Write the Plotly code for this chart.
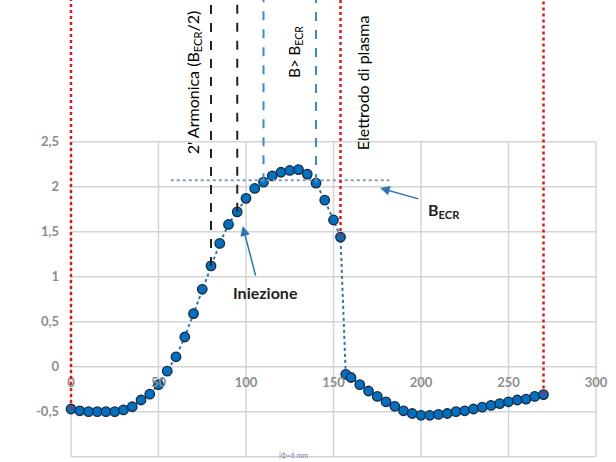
import plotly.graph_objects as go

# ---- data ----
pos_mm = [0, 5, 10, 15, 20, 25, 30, 35, 40, 45, 50, 55, 60, 65, 70, 75, 80, 85, 90, 95,
          100, 105, 110, 115, 120, 125, 130, 135, 140, 145, 150, 154, 157, 160, 165, 170,
          175, 180, 185, 190, 195, 200, 205, 210, 215, 220, 225, 230, 235, 240, 245, 250,
          255, 260, 265, 270]
campo_kG = [-0.47, -0.49, -0.50, -0.50, -0.50, -0.50, -0.48, -0.445, -0.37, -0.305, -0.20, -0.05,
            0.11, 0.33, 0.59, 0.86, 1.12, 1.37, 1.58, 1.72, 1.87, 1.98, 2.05, 2.12, 2.16, 2.18,
            2.19, 2.14, 2.04, 1.85, 1.63, 1.44, -0.085, -0.12, -0.20, -0.27, -0.33, -0.39,
            -0.44, -0.49, -0.52, -0.54, -0.54, -0.53, -0.52, -0.50, -0.49, -0.47, -0.45,
            -0.43, -0.41, -0.39, -0.37, -0.36, -0.33, -0.31]

x_ticks = [0, 50, 100, 150, 200, 250, 300]
y_ticks = [-1, -0.5, 0, 0.5, 1, 1.5, 2, 2.5]
y_ticktext = ["-1", "-0,5", "0", "0,5", "1", "1,5", "2", "2,5"]

red_lines = [0, 154, 270]        # elettrodo / estremi
black_lines = [80, 95]           # 2a armonica
blue_lines = [110, 140]          # B > BECR
B_ECR = 2.07
becr_span = [57, 182]

X_RANGE = [-4, 304]
Y_RANGE = [-1.059, 4.074]
lookup = dict(zip(pos_mm, campo_kG))

FONT = "Lato"
GRAY = "#8c8c8c"
GRID = "#d4d4d4"

fig = go.Figure()

fig.add_trace(go.Scatter(
    x=pos_mm, y=campo_kG, mode="lines+markers",
    line=dict(color="#2e75b6", width=2, dash="dot"),
    marker=dict(size=9.5, color="#0070c0", line=dict(color="#1a2840", width=1.3)),
    cliponaxis=False, showlegend=False,
))

shapes = []
# gridlines limited to the 0-300 / -1..2.5 box
for xv in x_ticks:
    shapes.append(dict(type="line", xref="x", yref="y", x0=xv, x1=xv,
                       y0=y_ticks[0], y1=y_ticks[-1],
                       line=dict(color=GRID, width=1.5), layer="below"))
for yv in y_ticks:
    shapes.append(dict(type="line", xref="x", yref="y", x0=x_ticks[0], x1=x_ticks[-1],
                       y0=yv, y1=yv, line=dict(color=GRID, width=1.5), layer="below"))
# BECR horizontal line
shapes.append(dict(type="line", xref="x", yref="y", x0=becr_span[0], x1=becr_span[1],
                   y0=B_ECR, y1=B_ECR, line=dict(color="#8898b8", width=2, dash="dot")))
for xv in black_lines:
    shapes.append(dict(type="line", xref="x", yref="y", x0=xv, x1=xv, y0=lookup[xv], y1=Y_RANGE[1],
                       line=dict(color="#222222", width=2, dash="dash")))
for xv in blue_lines:
    shapes.append(dict(type="line", xref="x", yref="y", x0=xv, x1=xv, y0=lookup[xv], y1=Y_RANGE[1],
                       line=dict(color="#3a8ad6", width=2, dash="dash")))
for xv in red_lines:
    shapes.append(dict(type="line", xref="x", yref="y", x0=xv, x1=xv, y0=lookup[xv], y1=Y_RANGE[1],
                       line=dict(color="#e01818", width=2.5, dash="dot")))

annotations = [
    dict(x=69.7, y=3.16, xref="x", yref="y", text="2' Armonica (B<sub>ECR</sub>/2)",
         textangle=-90, showarrow=False, font=dict(family=FONT, size=16, color="#000000")),
    dict(x=128, y=3.50, xref="x", yref="y", text="B> B<sub>ECR</sub>",
         textangle=-90, showarrow=False, font=dict(family=FONT, size=15, color="#000000")),
    dict(x=166.3, y=3.15, xref="x", yref="y", text="Elettrodo di plasma",
         textangle=-90, showarrow=False, font=dict(family=FONT, size=16, color="#000000")),
    # arrows
    dict(x=176.6, y=1.985, ax=199.4, ay=1.86, xref="x", yref="y", axref="x", ayref="y",
         text="", showarrow=True, arrowhead=2, arrowsize=1.3, arrowwidth=1.5, arrowcolor="#2e75b6"),
    dict(x=213, y=1.74, xref="x", yref="y", text="<b>B<sub>ECR</sub></b>", showarrow=False,
         font=dict(family=FONT, size=16, color="#222222")),
    dict(x=98.1, y=1.563, ax=105.7, ay=0.997, xref="x", yref="y", axref="x", ayref="y",
         text="", showarrow=True, arrowhead=2, arrowsize=1.3, arrowwidth=1.5, arrowcolor="#2e75b6"),
    dict(x=110.9, y=0.82, xref="x", yref="y", text="<b>Iniezione</b>", showarrow=False,
         font=dict(family=FONT, size=16, color="#222222")),
    # axis title
    dict(x=-23.4, y=0.74, xref="x", yref="y", text="<b>Campo magnetico [kG]</b>",
         textangle=-90, showarrow=False, font=dict(family=FONT, size=18, color=GRAY)),
    dict(x=117.5, y=-0.985, xref="x", yref="y", xanchor="left",
         text="<span style='color:#777777'>|</span>Φ=6 mm", showarrow=False,
         font=dict(family=FONT, size=7, color="#6f86a8")),
]

fig.update_layout(
    width=616, height=462,
    margin=dict(l=64, r=13, t=0, b=0),
    plot_bgcolor="white", paper_bgcolor="white",
    shapes=shapes, annotations=annotations,
    showlegend=False,
    xaxis=dict(range=X_RANGE, tickvals=x_ticks, showgrid=False, zeroline=False,
               showline=False, ticks="", anchor="free",
               position=(0 - Y_RANGE[0]) / (Y_RANGE[1] - Y_RANGE[0]),
               ticklabelstandoff=6,
               tickfont=dict(family=FONT, size=13, color=GRAY, weight="bold")),
    yaxis=dict(range=Y_RANGE, tickvals=y_ticks, ticktext=y_ticktext,
               showgrid=False, zeroline=False,
               showline=False, ticks="", ticklabelstandoff=4,
               tickfont=dict(family=FONT, size=13, color=GRAY, weight="bold")),
)

fig.write_html("out.html", config={"displayModeBar": False},
               post_script="document.body.style.margin='0';document.body.style.overflow='hidden';")
